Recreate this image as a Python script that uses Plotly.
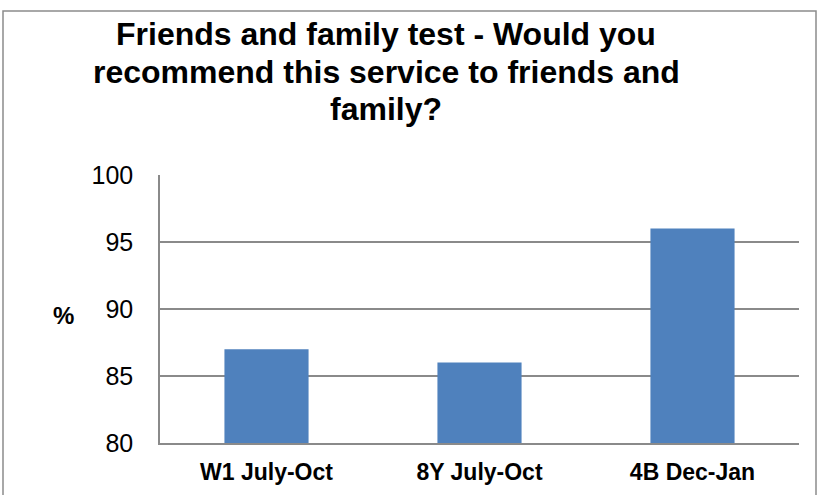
import plotly.graph_objects as go

categories = ["W1 July-Oct", "8Y July-Oct", "4B Dec-Jan"]
values = [87, 86, 96]
title_lines = ["Friends and family test - Would you",
               "recommend this service to friends and",
               "family?"]
y_label = "%"

W, H = 818, 495
L, R, T, B = 160, 19, 175, 52
pw, ph = W - L - R, H - T - B

def px_x(x):
    return (x - L) / pw

def px_y(y):
    return (H - B - y) / ph

fig = go.Figure(go.Bar(x=categories, y=values, marker=dict(color="#4F81BD", line=dict(width=0)),
                       width=0.395))

annotations = []
for i, line in enumerate(title_lines):
    annotations.append(dict(text="<b>%s</b>" % line, x=px_x(386), y=px_y(34 + i * 37.5),
                            xref="paper", yref="paper", showarrow=False,
                            xanchor="center", yanchor="middle",
                            font=dict(family="Liberation Sans, Arial", size=32, color="black")))
annotations.append(dict(text="<b>%s</b>" % y_label, x=px_x(63), y=px_y(315), xref="paper", yref="paper",
                        showarrow=False, xanchor="center", yanchor="middle",
                        font=dict(family="Liberation Sans, Arial", size=24, color="black")))

fig.update_layout(
    width=W, height=H,
    margin=dict(l=L, r=R, t=T, b=B, pad=0, autoexpand=False),
    paper_bgcolor="white", plot_bgcolor="white",
    showlegend=False,
    annotations=annotations,
    shapes=[dict(type="rect", xref="paper", yref="paper",
                 x0=px_x(3), x1=px_x(816), y0=px_y(520), y1=px_y(11),
                 line=dict(color="#8C8C8C", width=1.5), fillcolor="rgba(0,0,0,0)", layer="below")],
    font=dict(family="Liberation Sans, Arial", color="black"),
)
fig.update_yaxes(range=[80, 100], dtick=5, tick0=80, showgrid=True, gridcolor="#8A8A8A", gridwidth=1.5,
                 showline=True, linecolor="#8A8A8A", linewidth=1.5, ticks="", automargin=False,
                 tickfont=dict(size=25, color="black"), ticklabelstandoff=20, zeroline=False)
fig.update_xaxes(showline=True, linecolor="#8A8A8A", linewidth=1.5, ticks="", automargin=False,
                 tickfont=dict(size=23, color="black", weight="bold"), ticklabelstandoff=8)

fig.write_html("out.html")
